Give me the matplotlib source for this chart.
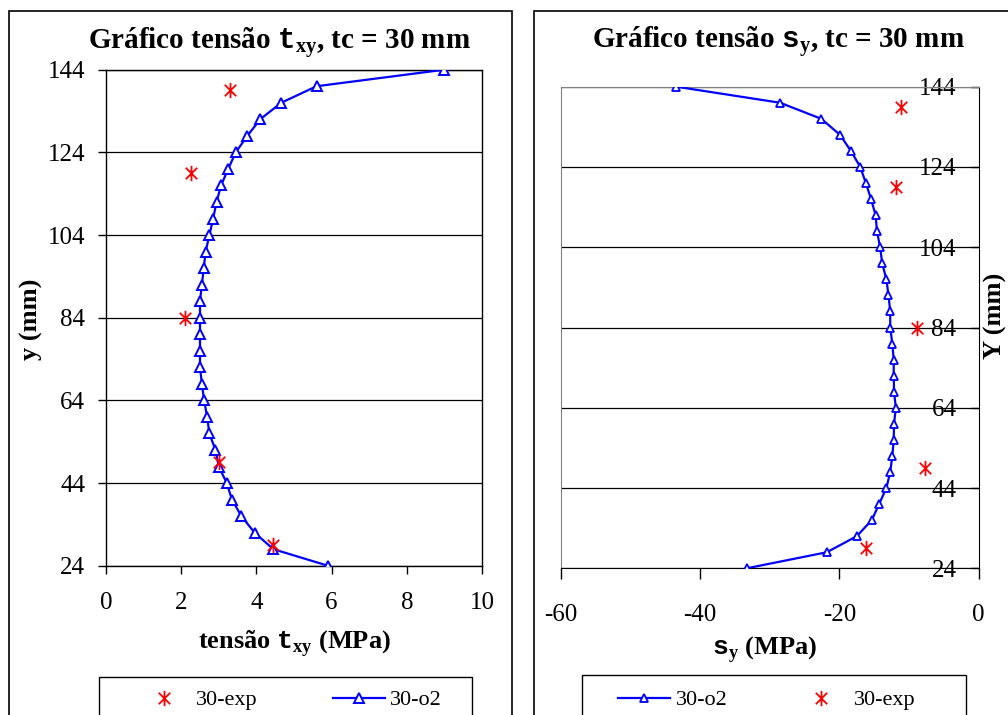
import numpy as np
import matplotlib
matplotlib.use("Agg")
import matplotlib.pyplot as plt
from matplotlib.path import Path
from matplotlib.patches import Rectangle

plt.rcParams['font.family'] = ['Liberation Serif', 'DejaVu Serif']
plt.rcParams['mathtext.fontset'] = 'custom'
plt.rcParams['mathtext.rm'] = 'Liberation Serif:bold'
plt.rcParams['mathtext.tt'] = 'Liberation Mono:bold'
plt.rcParams['axes.unicode_minus'] = False

# data
y_o2 = [24, 28, 32, 36, 40, 44, 48, 52, 56, 60, 64, 68, 72, 76, 80, 84,
        88, 92, 96, 100, 104, 108, 112, 116, 120, 124, 128, 132, 136, 140, 144]
txy_o2 = [5.90, 4.45, 3.95, 3.60, 3.35, 3.21, 3.00, 2.91, 2.75, 2.69, 2.61,
          2.55, 2.50, 2.50, 2.50, 2.50, 2.50, 2.55, 2.60, 2.65, 2.75, 2.85,
          2.94, 3.06, 3.25, 3.45, 3.76, 4.10, 4.66, 5.60, 9.00]
sy_o2 = [-33.3, -21.8, -17.5, -15.35, -14.3, -13.25, -12.7, -12.4, -12.2,
         -12.15, -11.9, -12.15, -12.2, -12.2, -12.4, -12.7, -12.7, -12.95,
         -13.25, -13.85, -14.15, -14.6, -14.8, -15.45, -16.2, -17.0, -18.35,
         -19.9, -22.6, -28.5, -43.4]

y_exp = [29, 49, 84, 119, 139]
txy_exp = [4.45, 3.0, 2.1, 2.25, 3.3]
sy_exp = [-16.2, -7.7, -8.8, -11.9, -11.15]

yticks = [24, 44, 64, 84, 104, 124, 144]
xticks_t = [0, 2, 4, 6, 8, 10]
xticks_s = [-60, -40, -20, 0]

# excel-like asterisk marker
ast = Path([(0, -1), (0, 1), (-0.75, -0.75), (0.75, 0.75), (-0.75, 0.75), (0.75, -0.75)],
           [Path.MOVETO, Path.LINETO] * 3)

W, H = 1008, 715
fig = plt.figure(figsize=(W / 100, H / 100), dpi=100)


def fx(px):
    return px / W


def fy(py):
    return 1 - py / H


# outer chart boxes
for x0, x1 in [(9, 512), (534, 1030)]:
    fig.patches.append(Rectangle((fx(x0), fy(740)), fx(x1 - x0), (740 - 11) / H,
                                 transform=fig.transFigure, fill=False,
                                 edgecolor='black', lw=1.2))

# ---- left chart
ax1 = fig.add_axes([fx(106), fy(565.7), fx(376), 496 / H])
ax1.plot(txy_exp, y_exp, linestyle='none', marker=ast, ms=11, mew=1.3,
         color='red', label='30-exp', zorder=4)
ax1.plot(txy_o2, y_o2, color='blue', lw=1.6, marker='^', ms=6.5, mew=1.4,
         mfc='white', mec='blue', label='30-o2', zorder=3)
ax1.set_xlim(0, 10)
ax1.set_ylim(24, 144)
ax1.set_xticks(xticks_t)
ax1.set_yticks(yticks)
ax1.grid(axis='y', color='black', lw=0.9)
ax1.tick_params(axis='both', labelsize=18, length=6, width=1, direction='out')
ax1.tick_params(axis='y', pad=9)
ax1.tick_params(axis='x', pad=13)
for s in ax1.spines.values():
    s.set_color('black')
    s.set_linewidth(1)
ax1.set_xlabel(r'tensão $\mathtt{t}_{\mathrm{xy}}$ (MPa)', fontsize=19, fontweight='bold')
ax1.xaxis.label.set_va('baseline')
ax1.xaxis.set_label_coords(0.5, -0.1665)
ax1.set_ylabel('y (mm)', fontsize=19, fontweight='bold')
ax1.yaxis.label.set_va('center')
ax1.yaxis.set_label_coords(-0.198, 0.497)
fig.text(fx(279), fy(49.3), r'Gráfico tensão $\mathtt{t}_{\mathrm{xy}}$, tc = 30 mm',
         ha='center', va='baseline', fontsize=21, fontweight='bold')

h1, l1 = ax1.get_legend_handles_labels()
fig.legend(h1, l1, loc='center left', bbox_to_anchor=(fx(138), fy(700)),
           bbox_transform=fig.transFigure, ncol=2, frameon=False, fontsize=16,
           borderpad=0, borderaxespad=0, handlelength=2.34, handletextpad=0.25,
           columnspacing=3.4)
fig.patches.append(Rectangle((fx(99), fy(740)), fx(472 - 99), (740 - 676.7) / H,
                             transform=fig.transFigure, fill=False,
                             edgecolor='black', lw=1))

# ---- right chart
ax2 = fig.add_axes([fx(560.7), fy(568.3), fx(418), 481.6 / H])
ax2.plot(sy_o2, y_o2, color='blue', lw=1.6, marker='^', ms=6, mew=1.3,
         mfc='white', mec='blue', label='30-o2', zorder=3)
ax2.plot(sy_exp, y_exp, linestyle='none', marker=ast, ms=11, mew=1.3,
         color='red', label='30-exp', zorder=4)
ax2.set_xlim(-60, 0)
ax2.set_ylim(24, 144)
ax2.set_xticks(xticks_s)
ax2.set_yticks(yticks)
ax2.grid(axis='y', color='black', lw=0.9)
ax2.tick_params(axis='x', labelsize=18, length=8, width=1, direction='out', pad=18)
ax2.yaxis.tick_right()
ax2.tick_params(axis='y', labelsize=18, length=6, width=1, direction='in', pad=-16)
plt.setp(ax2.yaxis.get_majorticklabels(), ha='right')
for side in ['left', 'top']:
    ax2.spines[side].set_color('#808080')
for side in ['bottom', 'right']:
    ax2.spines[side].set_color('black')
ax2.set_xlabel(r'$\mathtt{s}_{\mathrm{y}}$ (MPa)', fontsize=19, fontweight='bold')
ax2.xaxis.label.set_va('baseline')
ax2.xaxis.set_label_coords(0.4888, -0.178)
ax2.set_ylabel('Y (mm)', fontsize=19, fontweight='bold')
ax2.yaxis.set_label_position('right')
ax2.yaxis.label.set_va('center')
ax2.yaxis.set_label_coords(1.039, 0.524)
fig.text(fx(778), fy(48.3), r'Gráfico tensão $\mathtt{s}_{\mathrm{y}}$, tc = 30 mm',
         ha='center', va='baseline', fontsize=21, fontweight='bold')

h2, l2 = ax2.get_legend_handles_labels()
fig.legend(h2, l2, loc='center left', bbox_to_anchor=(fx(617.7), fy(700)),
           bbox_transform=fig.transFigure, ncol=2, frameon=False, fontsize=16,
           borderpad=0, borderaxespad=0, handlelength=2.34, handletextpad=0.3,
           columnspacing=3.0)
fig.patches.append(Rectangle((fx(581.7), fy(740)), fx(966 - 581.7), (740 - 675) / H,
                             transform=fig.transFigure, fill=False,
                             edgecolor='black', lw=1))

fig.savefig('out.png', dpi=100)
